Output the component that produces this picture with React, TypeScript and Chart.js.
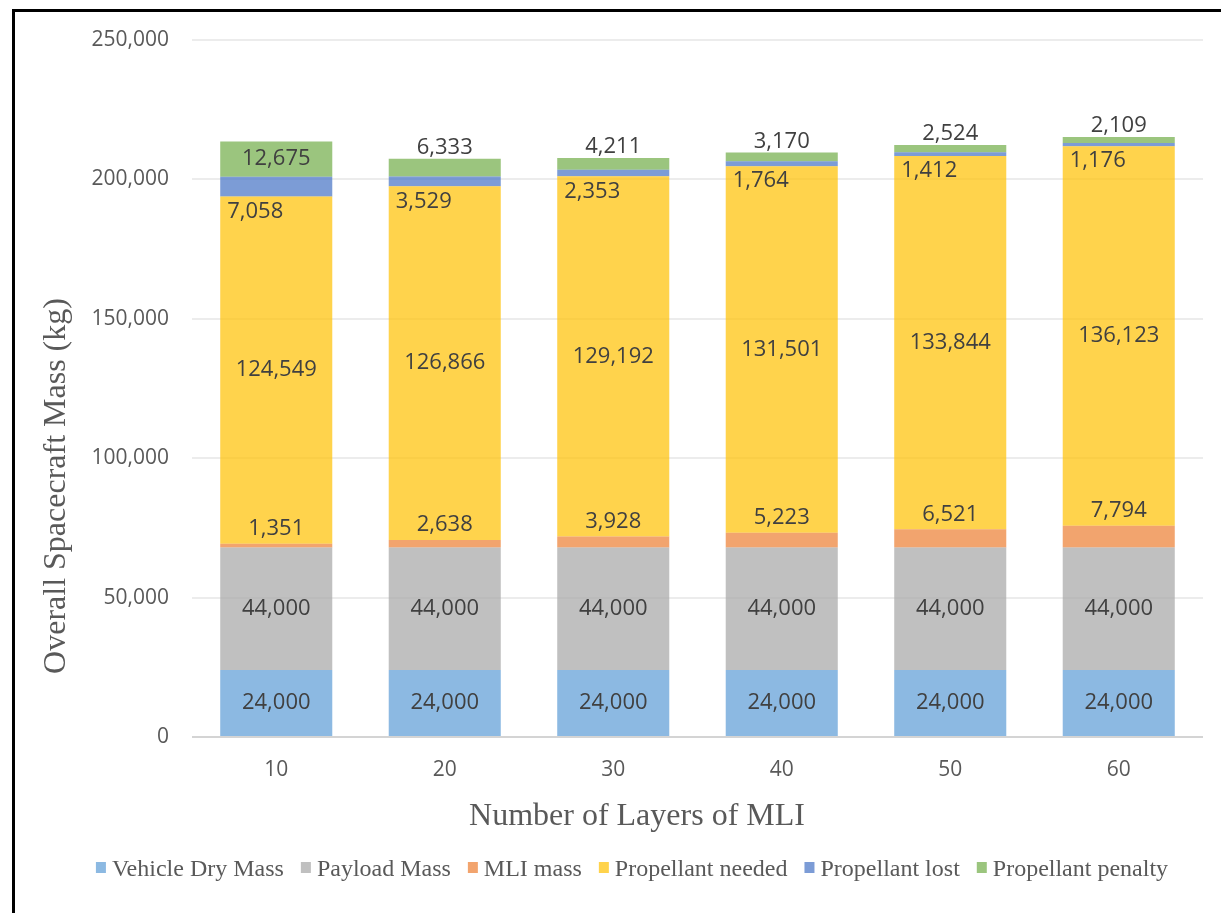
import React, { useEffect, useRef } from "react";
import { Chart, registerables } from "chart.js";

Chart.register(...registerables);

const categories = ["10", "20", "30", "40", "50", "60"];
const seriesNames = [
  "Vehicle Dry Mass",
  "Payload Mass",
  "MLI mass",
  "Propellant needed",
  "Propellant lost",
  "Propellant penalty",
];
const vehicleDryMass = [24000, 24000, 24000, 24000, 24000, 24000];
const payloadMass = [44000, 44000, 44000, 44000, 44000, 44000];
const mliMass = [1351, 2638, 3928, 5223, 6521, 7794];
const propellantNeeded = [124549, 126866, 129192, 131501, 133844, 136123];
const propellantLost = [7058, 3529, 2353, 1764, 1412, 1176];
const propellantPenalty = [12675, 6333, 4211, 3170, 2524, 2109];
const yTickValues = [0, 50000, 100000, 150000, 200000, 250000];

const xTitle = "Number of Layers of MLI";
const yTitle = "Overall Spacecraft Mass (kg)";

const seriesColors = [
  "rgba(91,155,213,0.7)",
  "rgba(165,165,165,0.7)",
  "rgba(237,125,49,0.7)",
  "rgba(255,192,0,0.7)",
  "rgba(68,114,196,0.7)",
  "rgba(112,173,71,0.7)",
];
const seriesValues = [
  vehicleDryMass,
  payloadMass,
  mliMass,
  propellantNeeded,
  propellantLost,
  propellantPenalty,
];
const labelPlacement = ["center", "center", "above", "center", "below", "auto"];

const SANS = '"Open Sans", "Liberation Sans", sans-serif';
const SERIF = '"Liberation Serif", "DejaVu Serif", serif';
const fmt = (v: number) => Number(v).toLocaleString("en-US");

const decorPlugin = {
  id: "decor",
  afterDatasetsDraw(chart: any) {
    const { ctx, chartArea } = chart;
    const yScale = chart.scales.y;
    // zero axis line drawn over bars
    ctx.save();
    ctx.strokeStyle = "rgba(0,0,0,0.17)";
    ctx.lineWidth = 2;
    const y0 = yScale.getPixelForValue(0);
    ctx.beginPath();
    ctx.moveTo(chartArea.left, y0);
    ctx.lineTo(chartArea.right, y0);
    ctx.stroke();

    // data labels
    ctx.font = `22px ${SANS}`;
    ctx.fillStyle = "#404040";
    ctx.textBaseline = "middle";
    chart.data.datasets.forEach((ds: any, i: number) => {
      const meta = chart.getDatasetMeta(i);
      meta.data.forEach((bar: any, j: number) => {
        const { x, y, base, width } = bar.getProps(["x", "y", "base", "width"], true);
        const top = Math.min(y, base);
        const bottom = Math.max(y, base);
        const text = fmt(ds.data[j]);
        let mode = labelPlacement[i];
        if (mode === "auto") mode = bottom - top > 30 ? "center" : "over";
        let tx = x;
        let ty = (top + bottom) / 2;
        ctx.textAlign = "center";
        if (mode === "above") ty = top - 15;
        else if (mode === "over") ty = top - 11;
        else if (mode === "below") {
          ty = bottom + 15;
          tx = x - width / 2 + 7;
          ctx.textAlign = "left";
        }
        ctx.fillText(text, tx, ty);
      });
    });
    ctx.restore();
  },
  afterDraw(chart: any) {
    const { ctx } = chart;
    ctx.save();
    // frame
    ctx.fillStyle = "#000";
    ctx.fillRect(12, 9, 3, 913);
    ctx.fillRect(12, 9, 1221, 3);

    // axis titles
    ctx.fillStyle = "#595959";
    ctx.font = `32px ${SERIF}`;
    ctx.textAlign = "center";
    ctx.textBaseline = "alphabetic";
    ctx.fillText(xTitle, 637, 825);
    ctx.save();
    ctx.translate(65, 486);
    ctx.rotate(-Math.PI / 2);
    ctx.fillText(yTitle, 0, 0);
    ctx.restore();

    // legend
    ctx.font = `24px ${SERIF}`;
    const boxW = 10;
    const boxH = 11;
    const boxGap = 6;
    const itemGap = 17;
    const widths = seriesNames.map((n) => ctx.measureText(n).width);
    const total =
      widths.reduce((a: number, b: number) => a + b, 0) +
      seriesNames.length * (boxW + boxGap) +
      (seriesNames.length - 1) * itemGap;
    let lx = 632 - total / 2;
    ctx.textAlign = "left";
    seriesNames.forEach((n, i) => {
      ctx.fillStyle = seriesColors[i];
      ctx.fillRect(lx, 862, boxW, boxH);
      ctx.fillStyle = "#595959";
      ctx.fillText(n, lx + boxW + boxGap, 876);
      lx += boxW + boxGap + widths[i] + itemGap;
    });
    ctx.restore();
  },
};

export default function App() {
  const canvasRef = useRef<HTMLCanvasElement | null>(null);

  useEffect(() => {
    const canvas = canvasRef.current;
    if (!canvas) return;
    const chart = new Chart(canvas, {
      type: "bar",
      data: {
        labels: categories,
        datasets: seriesNames.map((name, i) => ({
          label: name,
          data: seriesValues[i],
          backgroundColor: seriesColors[i],
          borderWidth: 0,
          barPercentage: 0.665,
          categoryPercentage: 1,
        })),
      },
      options: {
        responsive: false,
        animation: false,
        layout: { padding: { left: 0, right: 18, top: 40, bottom: 0 } },
        plugins: {
          legend: { display: false },
          tooltip: { enabled: false },
        },
        scales: {
          x: {
            stacked: true,
            grid: { display: false, drawTicks: false },
            border: { display: false },
            ticks: {
              color: "#595959",
              font: { family: SANS, size: 21 },
              padding: 20,
            },
            afterFit: (s: any) => {
              s.height = 176;
            },
          },
          y: {
            stacked: true,
            min: 0,
            max: 250000,
            afterBuildTicks: (s: any) => {
              s.ticks = yTickValues.map((v) => ({ value: v }));
            },
            grid: {
              color: (c: any) => (c.tick && c.tick.value === 0 ? "rgba(0,0,0,0)" : "rgba(0,0,0,0.075)"),
              lineWidth: 2,
              drawTicks: false,
            },
            border: { display: false },
            ticks: {
              color: "#595959",
              font: { family: SANS, size: 21 },
              padding: 23,
              callback: (v: any) => fmt(Number(v)),
            },
            afterFit: (s: any) => {
              s.width = 192;
            },
          },
        },
      },
      plugins: [decorPlugin],
    } as any);
    return () => chart.destroy();
  }, []);

  return (
    <div style={{ position: "fixed", left: 0, top: 0, width: 1221, height: 913, background: "#fff" }}>
      <canvas ref={canvasRef} width={1221} height={913} style={{ display: "block" }} />
    </div>
  );
}
